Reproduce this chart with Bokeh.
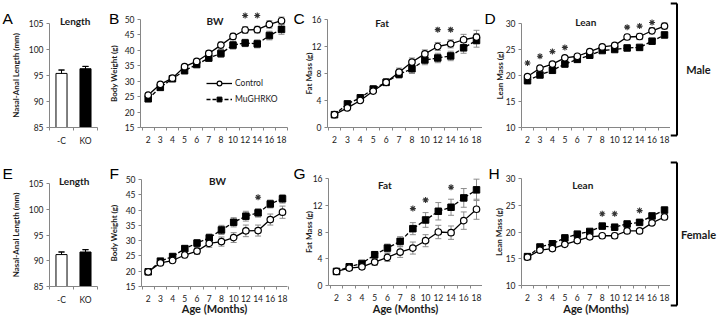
import math
from bokeh.plotting import figure
from bokeh.models import (ColumnDataSource, Range1d, FixedTicker, Whisker, Label,
                          Legend, LegendItem, TeeHead)
from bokeh.layouts import row, column
from bokeh.embed import file_html
from bokeh.resources import INLINE

# ---------------- data ----------------
ages = ["2", "3", "4", "5", "6", "7", "8", "10", "12", "14", "16", "18"]
bar_groups = ["-C", "KO"]

male_length = [95.4, 96.3]
male_length_err = [0.65, 0.45]
female_length = [91.2, 91.7]
female_length_err = [0.5, 0.45]

male_bw_ctrl = [25.5, 29.0, 31.0, 34.7, 36.4, 39.0, 41.7, 44.5, 46.6, 46.7, 48.4, 49.6]
male_bw_ctrl_err = [0.6, 0.5, 0.5, 0.6, 0.7, 0.9, 1.0, 1.0, 1.1, 1.1, 1.2, 1.2]
male_bw_ko = [24.3, 28.0, 30.8, 33.4, 35.4, 37.5, 39.0, 41.7, 42.4, 42.1, 44.8, 46.8]
male_bw_ko_err = [0.6, 0.6, 0.6, 0.7, 0.8, 1.0, 1.3, 1.3, 1.2, 1.3, 1.4, 1.6]

male_fat_ctrl = [1.9, 2.9, 4.0, 5.4, 6.7, 8.2, 9.7, 10.9, 12.0, 12.4, 13.0, 13.4]
male_fat_ctrl_err = [0.2, 0.3, 0.3, 0.4, 0.5, 0.6, 0.6, 0.6, 0.6, 0.6, 0.8, 1.0]
male_fat_ko = [1.9, 3.5, 4.4, 5.7, 6.7, 7.9, 8.7, 10.0, 10.3, 10.6, 11.8, 12.9]
male_fat_ko_err = [0.2, 0.3, 0.3, 0.4, 0.5, 0.6, 0.7, 0.7, 0.7, 0.7, 0.8, 1.0]

male_lean_ctrl = [19.8, 21.4, 22.2, 23.4, 23.7, 24.6, 25.5, 25.8, 27.4, 27.5, 28.6, 29.5]
male_lean_ctrl_err = [0.3, 0.3, 0.3, 0.3, 0.3, 0.4, 0.4, 0.4, 0.5, 0.6, 0.6, 0.6]
male_lean_ko = [19.0, 20.1, 21.0, 22.2, 23.1, 23.9, 24.8, 25.0, 25.3, 25.4, 26.6, 27.8]
male_lean_ko_err = [0.3, 0.3, 0.3, 0.3, 0.3, 0.3, 0.4, 0.4, 0.4, 0.4, 0.4, 0.5]

female_bw_ctrl = [19.8, 22.7, 23.5, 25.3, 26.6, 29.1, 29.7, 31.0, 33.2, 33.3, 36.9, 39.3]
female_bw_ctrl_err = [0.5, 0.6, 0.7, 0.9, 1.1, 1.3, 1.5, 1.6, 1.9, 1.8, 1.8, 2.0]
female_bw_ko = [19.8, 23.3, 24.8, 27.4, 29.2, 30.9, 33.5, 36.0, 38.0, 39.1, 42.0, 43.7]
female_bw_ko_err = [0.5, 0.6, 0.8, 0.9, 1.1, 1.3, 1.5, 1.5, 1.6, 1.4, 1.3, 1.4]

female_fat_ctrl = [2.1, 2.6, 2.8, 3.5, 4.2, 5.0, 5.6, 6.7, 8.0, 7.9, 9.7, 11.4]
female_fat_ctrl_err = [0.2, 0.2, 0.3, 0.5, 0.6, 0.8, 0.9, 0.9, 1.0, 1.0, 1.3, 1.5]
female_fat_ko = [2.1, 2.8, 3.3, 4.6, 5.6, 6.6, 8.5, 9.8, 11.1, 11.7, 13.1, 14.3]
female_fat_ko_err = [0.2, 0.2, 0.3, 0.5, 0.6, 0.7, 0.9, 1.1, 1.3, 1.2, 1.4, 1.6]

female_lean_ctrl = [15.3, 16.6, 16.9, 17.7, 18.4, 19.1, 19.3, 19.3, 20.2, 20.2, 21.7, 22.8]
female_lean_ctrl_err = [0.3, 0.3, 0.3, 0.3, 0.3, 0.4, 0.4, 0.5, 0.4, 0.4, 0.4, 0.5]
female_lean_ko = [15.4, 17.2, 17.8, 18.9, 19.6, 20.1, 21.1, 20.9, 21.5, 21.8, 23.0, 24.1]
female_lean_ko_err = [0.3, 0.3, 0.3, 0.3, 0.3, 0.3, 0.3, 0.3, 0.3, 0.3, 0.3, 0.4]

# significance stars: index into ages, height in axis units
male_bw_star_idx = [8, 9]
male_bw_star_y = [51.3, 51.3]
male_fat_star_idx = [8, 9]
male_fat_star_y = [14.5, 14.5]
male_lean_star_idx = [0, 1, 2, 3, 8, 9, 10]
male_lean_star_y = [22.4, 23.7, 24.6, 25.4, 29.3, 29.5, 30.2]
female_bw_star_idx = [9]
female_bw_star_y = [44.2]
female_fat_star_idx = [6, 7, 9]
female_fat_star_y = [11.5, 12.8, 14.7]
female_lean_star_idx = [6, 7, 9]
female_lean_star_y = [23.4, 23.4, 24.0]

# ---------------- style ----------------
FONT = "Lato"
AX = "#868686"
TXT = "#1a1a1a"
ERR = "#8c8c8c"
ROW_H = 158


def make_fig(g, xa, xa_px, sx, ymin, ymax):
    """Figure whose frame fills the whole cell; axes are pinned inside it."""
    x0, W, row_top = g["x0"], g["W"], g["row_top"]
    FT, FB = g["FT"], g["FB"]
    sy = (FB - FT) / (ymax - ymin)
    xr = Range1d(xa + (x0 - xa_px) / sx, xa + (x0 + W - xa_px) / sx)
    yr = Range1d(ymin - (row_top + ROW_H - FB) / sy, ymax + (FT - row_top) / sy)
    p = figure(width=W, height=ROW_H, x_range=xr, y_range=yr,
               output_backend="svg", toolbar_location=None,
               min_border_left=0, min_border_right=0, min_border_top=0, min_border_bottom=0)
    p.outline_line_color = None
    p.xgrid.visible = False
    p.ygrid.visible = False
    p.background_fill_color = "white"
    p.border_fill_color = "white"
    xl = xa + (g["FL"] - xa_px) / sx
    xrgt = xa + (g["FR"] - xa_px) / sx
    return p, xl, xrgt


def style_axes(p, g, xl, xrgt, yticks, xticks, xlabels, xminor):
    ya = p.yaxis[0]
    ya.fixed_location = xl
    ya.bounds = (yticks[0], yticks[-1])
    ya.ticker = FixedTicker(ticks=yticks, minor_ticks=[])
    ya.axis_line_color = AX
    ya.major_tick_line_color = AX
    ya.major_tick_out = 3
    ya.major_tick_in = 0
    ya.minor_tick_line_color = None
    ya.major_label_text_font = FONT
    ya.major_label_text_font_size = "8.5px"
    ya.major_label_text_color = TXT
    ya.major_label_standoff = 3

    xa = p.xaxis[0]
    xa.fixed_location = yticks[0]
    xa.bounds = (xl, xrgt)
    xa.ticker = FixedTicker(ticks=xticks, minor_ticks=xminor)
    xa.major_label_overrides = {t: l for t, l in zip(xticks, xlabels)}
    xa.axis_line_color = AX
    xa.major_tick_line_color = None
    xa.major_tick_out = 0
    xa.major_tick_in = 0
    xa.minor_tick_line_color = AX
    xa.minor_tick_out = 3
    xa.minor_tick_in = 0
    xa.major_label_text_font = FONT
    xa.major_label_text_font_size = "8.5px"
    xa.major_label_text_color = TXT
    xa.major_label_standoff = 5


def sx_(g, ax):
    return ax - g["x0"]


def sy_(g, ay):
    return g["row_top"] + ROW_H - ay


def add_texts(p, g):
    lt, lx, lb = g["letter"]
    p.add_layout(Label(x=sx_(g, lx), y=sy_(g, lb), x_units="screen", y_units="screen",
                       text=lt, text_font="Liberation Sans", text_font_size="15.5px",
                       text_color="black", text_align="left", text_baseline="alphabetic"))
    tt, tx, tb = g["title"]
    p.add_layout(Label(x=sx_(g, tx), y=sy_(g, tb), x_units="screen", y_units="screen",
                       text=tt, text_font=FONT, text_font_size="10px",
                       text_font_style="bold", text_color=TXT,
                       text_align="center", text_baseline="alphabetic"))
    yl, ylx = g["ylabel"]
    p.add_layout(Label(x=sx_(g, ylx), y=sy_(g, (g["FT"] + g["FB"]) / 2),
                       x_units="screen", y_units="screen", angle=math.pi / 2,
                       text=yl, text_font=FONT, text_font_size="8px", text_font_style="bold",
                       text_color=TXT, text_align="center", text_baseline="middle"))
    if g.get("xlabel"):
        p.add_layout(Label(x=sx_(g, (g["FL"] + g["FR"]) / 2), y=sy_(g, 308),
                           x_units="screen", y_units="screen",
                           text=g["xlabel"], text_font=FONT, text_font_size="11px",
                           text_font_style="bold", text_color=TXT,
                           text_align="center", text_baseline="middle"))


def add_series(p, y, e, ctrl):
    xs = list(range(len(ages)))
    src = ColumnDataSource(dict(x=xs, y=y,
                                lo=[a - b for a, b in zip(y, e)],
                                hi=[a + b for a, b in zip(y, e)]))
    w = Whisker(source=src, base="x", upper="hi", lower="lo", line_color=ERR, line_width=1,
                upper_head=TeeHead(size=6, line_color=ERR, line_width=1),
                lower_head=TeeHead(size=6, line_color=ERR, line_width=1))
    w.level = "underlay"
    p.add_layout(w)
    if ctrl:
        rl = p.line("x", "y", source=src, line_color="black", line_width=1.3)
        rs = p.scatter("x", "y", source=src, marker="circle", size=6.5,
                       fill_color="white", line_color="black", line_width=1.2)
    else:
        rl = p.line("x", "y", source=src, line_color="black", line_width=1.3, line_dash="4 2")
        rs = p.scatter("x", "y", source=src, marker="square", size=6.5,
                       fill_color="black", line_color="black", line_width=1)
    return rl, rs


def add_stars(p, idx, ys):
    src = ColumnDataSource(dict(x=idx, y=ys))
    p.scatter("x", "y", source=src, marker="asterisk", size=6,
              line_color="#333333", line_width=1.1)


def line_panel(g, yticks, ctrl, ctrl_err, ko, ko_err, star_idx, star_y, legend=False):
    c0, c11 = g["c0"], g["c11"]
    n = len(ages)
    sx = (c11 - c0) / (n - 1)
    p, xl, xrgt = make_fig(g, 0, c0, sx, yticks[0], yticks[-1])
    style_axes(p, g, xl, xrgt, yticks, list(range(n)), ages,
               [i - 0.5 for i in range(n + 1)])
    kl, ks = add_series(p, ko, ko_err, False)
    cl, cs = add_series(p, ctrl, ctrl_err, True)
    add_stars(p, star_idx, star_y)
    add_texts(p, g)
    if legend:
        lx, lbottom = g["legend"]
        lg = Legend(items=[LegendItem(label="Control", renderers=[cl, cs]),
                           LegendItem(label="MuGHRKO", renderers=[kl, ks])],
                    location=(sx_(g, lx), sy_(g, lbottom)), glyph_width=26, glyph_height=12,
                    spacing=4, label_standoff=3, padding=0, margin=0,
                    border_line_color=None, background_fill_alpha=0,
                    label_text_font=FONT, label_text_font_size="8.5px",
                    label_text_color=TXT)
        p.add_layout(lg)
    return p


def bar_panel(g, vals, errs):
    sx = (g["FR"] - g["FL"]) / 2.0
    p, xl, xrgt = make_fig(g, 0, g["FL"], sx, 85, 105)
    centers = [0.5, 1.5]
    style_axes(p, g, xl, xrgt, [85, 90, 95, 100, 105], centers, bar_groups, [0, 1, 2])
    src = ColumnDataSource(dict(x=centers, top=vals,
                                lo=[a - b for a, b in zip(vals, errs)],
                                hi=[a + b for a, b in zip(vals, errs)],
                                fill=["white", "black"]))
    w = Whisker(source=src, base="x", upper="hi", lower="lo", line_color="black", line_width=1,
                upper_head=TeeHead(size=6, line_color="black", line_width=1),
                lower_head=TeeHead(size=6, line_color="black", line_width=1))
    w.level = "underlay"
    p.add_layout(w)
    p.vbar(x="x", top="top", bottom=85, width=0.46, source=src, fill_color="fill",
           line_color="black", line_width=1)
    up = ColumnDataSource(dict(x=centers, lo=vals, hi=[a + b for a, b in zip(vals, errs)]))
    p.add_layout(Whisker(source=up, base="x", upper="hi", lower="lo", line_color="black",
                         line_width=1, upper_head=TeeHead(size=6, line_color="black", line_width=1),
                         lower_head=None))
    add_texts(p, g)
    return p


# page geometry in window pixels
G = {
    "A": dict(x0=0, W=102, row_top=0, FL=49, FR=97, FT=23, FB=127,
              letter=("A", 2, 17.5), title=("Length", 74.7, 20),
              ylabel=("Nasal-Anal Length (mm)", 15)),
    "B": dict(x0=102, W=188, row_top=0, FL=140, FR=287, FT=19, FB=127, c0=147.7, c11=281,
              letter=("B", 108.5, 17.5), title=("BW", 214.5, 20),
              ylabel=("Body Weight (g)", 113), legend=(206, 105)),
    "C": dict(x0=290, W=192, row_top=0, FL=327, FR=482, FT=19, FB=127, c0=334, c11=476,
              letter=("C", 293, 17.5), title=("Fat", 381.7, 22),
              ylabel=("Fat Mass (g)", 308.3)),
    "D": dict(x0=482, W=188, row_top=0, FL=521, FR=670, FT=23, FB=127, c0=527, c11=664,
              letter=("D", 484, 17.5), title=("Lean", 585.3, 21.7),
              ylabel=("Lean Mass (g)", 499)),
    "E": dict(x0=0, W=102, row_top=158, FL=49, FR=97, FT=183, FB=286,
              letter=("E", 2, 173), title=("Length", 73.7, 180),
              ylabel=("Nasal-Anal Length (mm)", 15)),
    "F": dict(x0=102, W=188, row_top=158, FL=141, FR=287, FT=179, FB=286, c0=147.7, c11=282,
              letter=("F", 109, 173), title=("BW", 217, 180.7),
              ylabel=("Body Weight (g)", 113.3), xlabel="Age (Months)"),
    "G": dict(x0=290, W=192, row_top=158, FL=328, FR=482, FT=178, FB=285, c0=336, c11=476,
              letter=("G", 293, 173), title=("Fat", 384.3, 184.3),
              ylabel=("Fat Mass (g)", 308.3), xlabel="Age (Months)"),
    "H": dict(x0=482, W=188, row_top=158, FL=521, FR=670, FT=178, FB=285, c0=527, c11=664,
              letter=("H", 488, 173), title=("Lean", 582.3, 184.3),
              ylabel=("Lean Mass (g)", 498.3), xlabel="Age (Months)"),
}

pA = bar_panel(G["A"], male_length, male_length_err)
pB = line_panel(G["B"], [15, 20, 25, 30, 35, 40, 45, 50],
                male_bw_ctrl, male_bw_ctrl_err, male_bw_ko, male_bw_ko_err,
                male_bw_star_idx, male_bw_star_y, legend=True)
pC = line_panel(G["C"], [0, 4, 8, 12, 16],
                male_fat_ctrl, male_fat_ctrl_err, male_fat_ko, male_fat_ko_err,
                male_fat_star_idx, male_fat_star_y)
pD = line_panel(G["D"], [10, 15, 20, 25, 30],
                male_lean_ctrl, male_lean_ctrl_err, male_lean_ko, male_lean_ko_err,
                male_lean_star_idx, male_lean_star_y)
pE = bar_panel(G["E"], female_length, female_length_err)
pF = line_panel(G["F"], [15, 20, 25, 30, 35, 40, 45, 50],
                female_bw_ctrl, female_bw_ctrl_err, female_bw_ko, female_bw_ko_err,
                female_bw_star_idx, female_bw_star_y)
pG = line_panel(G["G"], [0, 4, 8, 12, 16],
                female_fat_ctrl, female_fat_ctrl_err, female_fat_ko, female_fat_ko_err,
                female_fat_star_idx, female_fat_star_y)
pH = line_panel(G["H"], [10, 15, 20, 25, 30],
                female_lean_ctrl, female_lean_ctrl_err, female_lean_ko, female_lean_ko_err,
                female_lean_star_idx, female_lean_star_y)

# right-hand brackets with sex labels
R = figure(width=50, height=316, x_range=Range1d(0, 50), y_range=Range1d(316, 0),
           output_backend="svg", toolbar_location=None,
           min_border_left=0, min_border_right=0, min_border_top=0, min_border_bottom=0)
R.axis.visible = False
R.xgrid.visible = False
R.ygrid.visible = False
R.outline_line_color = None
groups = ["Male", "Female"]
bracket_top = [3, 162]
bracket_bot = [135, 305]
bracket_x = 6.5
for grp, t, b in zip(groups, bracket_top, bracket_bot):
    R.segment(x0=[bracket_x, 0, 0], y0=[t, t, b], x1=[bracket_x, bracket_x, bracket_x],
              y1=[b, t, b], line_color="black", line_width=2)
    R.add_layout(Label(x=28, y=(t + b) / 2, text=grp, text_font=FONT, text_font_size="11px",
                       text_font_style="bold", text_color=TXT, text_align="center",
                       text_baseline="middle"))

layout = row(column(row(pA, pB, pC, pD), row(pE, pF, pG, pH)), R)
open("out.html", "w").write(file_html(layout, INLINE))
